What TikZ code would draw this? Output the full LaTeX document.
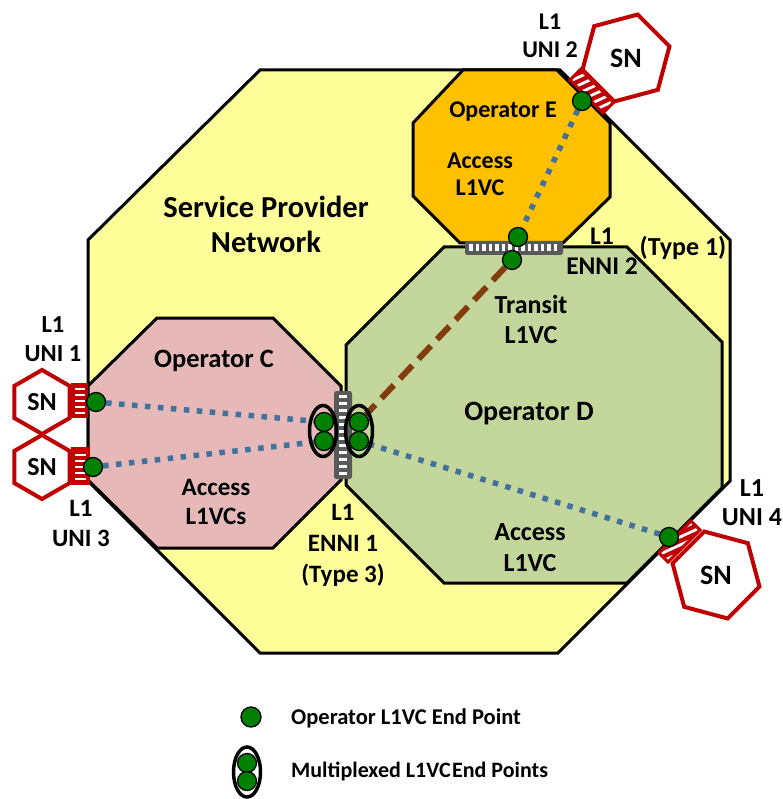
\documentclass[tikz,border=0pt]{standalone}
\usepackage{fontspec}
\setmainfont{Carlito}
\usetikzlibrary{shapes.geometric}
\definecolor{spyellow}{RGB}{255,255,153}
\definecolor{oporange}{RGB}{255,192,0}
\definecolor{opgreen}{RGB}{195,214,155}
\definecolor{oppink}{RGB}{230,185,184}
\definecolor{snred}{RGB}{192,0,0}
\definecolor{epgreen}{RGB}{0,128,0}
\definecolor{vcblue}{RGB}{65,113,156}
\definecolor{vcbrown}{RGB}{131,60,11}
\definecolor{ennigray}{RGB}{89,89,89}
\pgfdeclarelayer{back}
\pgfdeclarelayer{mid}
\pgfsetlayers{back,mid,main}
\begin{document}
\begin{tikzpicture}[x=1pt,y=-1pt,
 octo/.style={draw=black, line width=3pt, line join=miter},
 lbl/.style 2 args={font=\fontsize{#1}{#2}\selectfont\bfseries, align=center, inner sep=0pt, anchor=base},
 ep/.style={circle, draw=black, line width=1.3pt, fill=epgreen, minimum size=19pt, inner sep=0pt},
 mux/.style={ellipse, draw=black, line width=3.5pt, minimum width=27pt, minimum height=51pt, inner sep=0pt},
 sn/.style={regular polygon, regular polygon sides=6, draw=snred, line width=4pt, fill=white, inner sep=0pt, font=\fontsize{26}{30}\selectfont\bfseries},
 bluevc/.style={draw=vcblue, line width=5.5pt, dash pattern=on 5.5pt off 7.5pt},
 brownvc/.style={draw=vcbrown, line width=6pt, dash pattern=on 18pt off 9pt},
 ennibar/.style={fill=ennigray, rounded corners=2.5pt},
 stripe/.style={white, line width=2.8pt},
 uniedge/.style={draw=snred, line width=3pt, line join=miter}
]
\useasboundingbox (0,0) rectangle (782,799);

% ---------- networks ----------
\begin{pgfonlayer}{back}
\fill[spyellow] (260,70) -- (560,70) -- (730,240) -- (730,481) -- (558,653) -- (260,653) -- (88,481) -- (88,240) -- cycle;
\draw[octo] (260,70) -- (560,70) -- (730,240) -- (730,481) -- (558,653) -- (260,653) -- (88,481) -- (88,240) -- cycle;
\draw[octo, fill=oppink] (157,318) -- (273,318) -- (341,386) -- (341,480) -- (273,548) -- (157,548) -- (88,480) -- (88,386) -- cycle;
\draw[octo, fill=opgreen] (444,247) -- (627,247) -- (722,342) -- (722,488) -- (627,583) -- (444,583) -- (346,485) -- (346,345) -- cycle;
\draw[octo, fill=oporange] (463,70) -- (557,70) -- (610,123) -- (610,197) -- (563,243) -- (460,243) -- (413,196) -- (413,123) -- cycle;
\end{pgfonlayer}

% ---------- interfaces ----------
% ENNI 2
\fill[ennibar] (465,241) rectangle (563,255);
\draw[white, line width=7pt, dash pattern=on 3.5pt off 3pt] (469,248) -- (560,248);
% ENNI 1
\fill[ennibar] (334,391) rectangle (352,479);
\draw[white, line width=8pt, dash pattern=on 3.3pt off 3.7pt] (343,395) -- (343,476);

% UNI 1 and UNI 3 blocks
\fill[snred] (71,383) rectangle (88,418);
\foreach \yy in {389,395,...,413} \fill[white] (75,\yy-1.2) rectangle (85,\yy+1.2);
\fill[snred] (71,447) rectangle (90,485);
\foreach \yy in {455,461,...,479} \fill[white] (75,\yy-1.2) rectangle (86,\yy+1.2);

% UNI 2 block
\begin{scope}
\clip (570,80) -- (603,113) -- (613.6,102.4) -- (580.6,69.4) -- cycle;
\fill[snred] (560,60) rectangle (630,125);
\foreach \k in {0,...,10} \draw[stripe] (555,72+8*\k) -- (625,40+8*\k);
\end{scope}
\draw[uniedge] (570,80) -- (603,113) -- (613.6,102.4) -- (580.6,69.4) -- cycle;

% UNI 4 block
\begin{scope}
\clip (659,553) -- (691,521) -- (700,530) -- (668,562) -- cycle;
\fill[snred] (650,510) rectangle (710,570);
\foreach \k in {0,...,11} \draw[stripe] (645,545+8*\k) -- (715,513+8*\k);
\end{scope}
\draw[uniedge] (659,553) -- (691,521) -- (700,530) -- (668,562) -- cycle;

% ---------- subscriber nodes ----------
\node[sn, minimum size=64pt, shape border rotate=30] (sn1) at (42,402) {SN};
\node[sn, minimum size=64pt, shape border rotate=30] (sn3) at (42,467) {SN};
\node[sn, minimum size=90pt, shape border rotate=15, font=\fontsize{28}{32}\selectfont\bfseries] (sn2) at (626,58) {SN};
\node[sn, minimum size=90pt, shape border rotate=45, font=\fontsize{28}{32}\selectfont\bfseries] (sn4) at (716,575) {SN};

% ---------- end points ----------
\node[mux] (mx1) at (323,431) {};
\node[mux] (mx2) at (359,431) {};
\node[ep] (m1a) at (324,422) {};
\node[ep] (m1b) at (324,441) {};
\node[ep] (m2a) at (359,422) {};
\node[ep] (m2b) at (359,441) {};
\node[ep] (e2a) at (518,237) {};
\node[ep] (e2b) at (512,260) {};
\node[ep] (u1) at (96,402) {};
\node[ep] (u3) at (93,467) {};
\node[ep] (u2) at (582,101) {};
\node[ep] (u4) at (669,537) {};

% ---------- virtual connections ----------
\begin{pgfonlayer}{mid}
\draw[bluevc] (u2) -- (e2a);
\draw[brownvc] (e2b) -- (m2a);
\draw[bluevc] (u1) -- (m1a);
\draw[bluevc] (u3) -- (m1b);
\draw[bluevc] (m2b) -- (u4);
\end{pgfonlayer}

% ---------- labels (anchor = baseline of the last line) ----------
\node[lbl={30.5}{35}] (tsp) at (266,252.5) {Service Provider\\Network};
\node[lbl={24}{28}] (tuni2) at (550,58) {L1\\UNI 2};
\node[lbl={24}{28}] (topE) at (503,117.5) {Operator E};
\node[lbl={24}{27}] (taccE) at (480,195.5) {Access\\L1VC};
\node[lbl={25.5}{30}] (tenni2) at (602,274) {L1\\ENNI 2};
\node[lbl={26}{30}] (ttype1) at (683,255) {(Type 1)};
\node[lbl={26}{30}] (ttransit) at (531,343) {Transit\\L1VC};
\node[lbl={28}{32}] (topD) at (529,420) {Operator D};
\node[lbl={26}{31}] (taccD) at (530,571) {Access\\L1VC};
\node[lbl={26.5}{30}] (topC) at (214,367.5) {Operator C};
\node[lbl={25}{29}] (taccC) at (216,524) {Access\\L1VCs};
\node[lbl={24.5}{29}] (tuni1) at (53,361.5) {L1\\UNI 1};
\node[lbl={25}{30}] (tuni3) at (81,546) {L1\\UNI 3};
\node[lbl={25}{31}] (tenni1) at (343,582) {L1\\ENNI 1\\(Type 3)};
\node[lbl={26}{29}] (tuni4) at (752,525) {L1\\UNI 4};

% ---------- legend ----------
\node[ep, minimum size=20pt] (lg1) at (251,717) {};
\node[lbl={22.5}{27}, anchor=base west] (lgt1) at (291,724) {Operator L1VC End Point};
\node[mux, minimum height=50pt] (lgm) at (247,772) {};
\node[ep] (lgd1) at (247,763) {};
\node[ep] (lgd2) at (247,781) {};
\node[lbl={22}{27}, anchor=base west] (lgt2) at (291,777) {Multiplexed L1VC\kern1.5pt End Points};
\end{tikzpicture}
\end{document}
